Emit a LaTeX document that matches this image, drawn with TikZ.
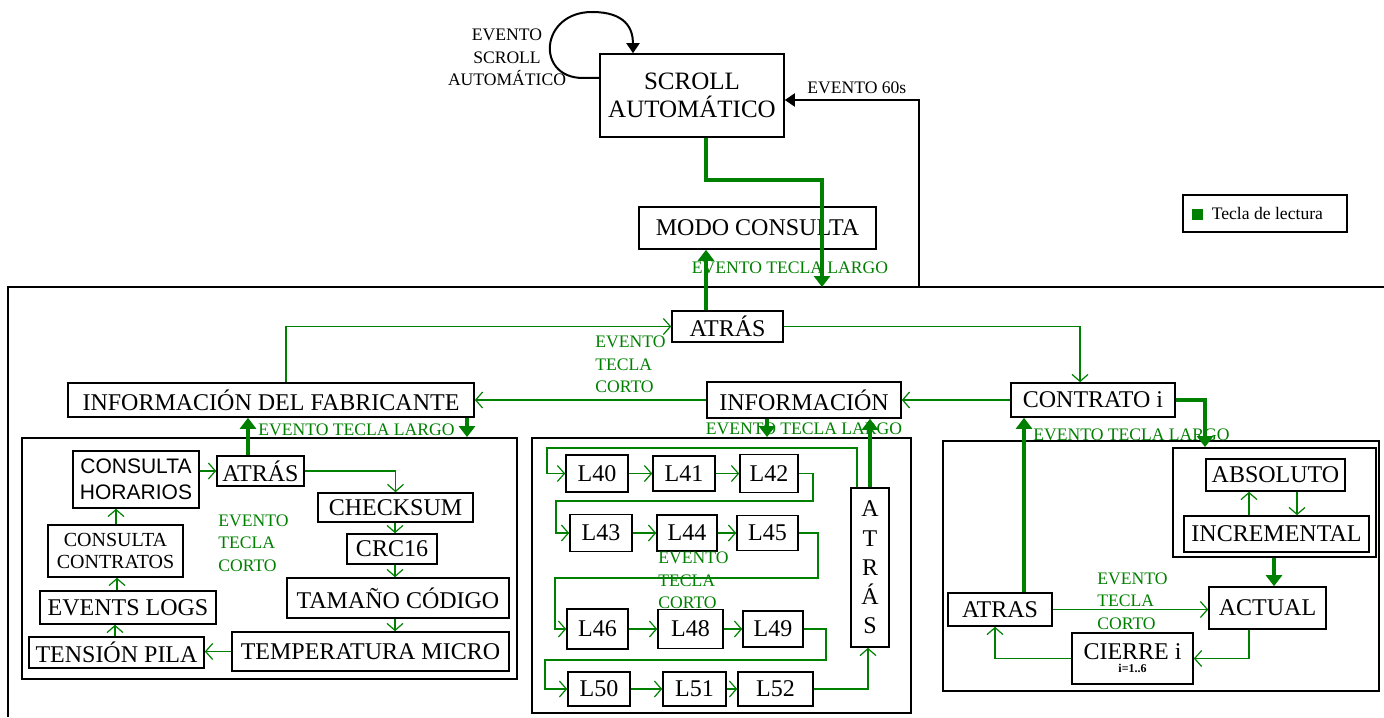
\documentclass[tikz,border=0pt]{standalone}
\usepackage{fontspec}
\setmainfont{Liberation Serif}
\newfontfamily\sansf{Liberation Sans}
\usetikzlibrary{arrows.meta}
\definecolor{grn}{RGB}{0,128,0}
\begin{document}
\begin{tikzpicture}[x=0.5pt,y=-0.5pt,
  bx/.style={draw, line width=0.8pt, inner sep=0pt, font=\fontsize{12}{14}\selectfont},
  wh/.style 2 args={minimum width=#1*0.5pt, minimum height=#2*0.5pt},
  pan/.style={draw, line width=0.9pt, inner sep=0pt},
  garr/.style={grn, line width=0.6pt, -{Straight Barb[length=3.5pt,width=8pt]}},
  gthick/.style={grn, line width=2pt, -{Triangle[length=5.5pt,width=8pt]}},
  barr/.style={black, line width=1pt, -{Triangle[length=5pt,width=6.5pt]}},
  lbl/.style={font=\fontsize{8.8}{11.2}\selectfont, inner sep=0pt},
  glbl/.style={lbl, text=grn},
]
\useasboundingbox (0,0) rectangle (1384,717);

% outer frame
\coordinate (fTL) at (8,287);
\coordinate (fBL) at (8,717);
\coordinate (fTR) at (1384,287);
\draw[line width=0.9pt] (fBL) -- (fTL) -- (fTR);
\coordinate (f60) at (919,287);
\coordinate (fin) at (822,287);

% panels
\node[pan,wh={495}{241}] (panL) at (269.5,558.5) {};
\node[pan,wh={379}{275}] (panM) at (721.5,575.5) {};
\node[pan,wh={436}{250}] (panR) at (1161,566) {};
\node[pan,wh={203}{109}] (grp) at (1274.5,502.5) {};

% top nodes
\node[bx,wh={184}{83},align=center,font=\fontsize{12.5}{14}\selectfont] (scroll) at (692,95.5) {SCROLL\\AUTOMÁTICO};
\node[bx,wh={237}{42}] (modo) at (757.5,228) {MODO CONSULTA};
\node[bx,wh={111}{31}] (atrasT) at (727.5,326.5) {ATRÁS};
\node[bx,wh={406}{34}] (inffab) at (271,400) {INFORMACIÓN DEL FABRICANTE};
\node[bx,wh={194}{36}] (info) at (804,400) {INFORMACIÓN};
\node[bx,wh={164}{34}] (contrato) at (1093,400) {CONTRATO i};

% legend
\node[draw,line width=0.6pt,inner sep=0pt,wh={164}{37}] (leg) at (1265,213.5) {};
\node[anchor=west,inner sep=0pt,font=\fontsize{8.8}{11}\selectfont] (legt) at ([xshift=4.5pt]leg.west) {\textcolor{grn}{\rule{5.5pt}{5.5pt}}\hspace{4.5pt}Tecla de lectura};

% left panel
\node[bx,wh={126}{57},align=center,font=\sansf\fontsize{10.5}{13}\selectfont] (horarios) at (136,479.5) {CONSULTA\\HORARIOS};
\node[bx,wh={87}{30}] (atrasL) at (260.5,471) {ATRÁS};
\node[bx,wh={155}{29}] (checksum) at (395.5,507.5) {CHECKSUM};
\node[bx,wh={90}{30}] (crc) at (392,549) {CRC16};
\node[bx,wh={222}{40}] (tamano) at (398,598) {TAMAÑO CÓDIGO};
\node[bx,wh={277}{39}] (temp) at (370.5,651.5) {TEMPERATURA MICRO};
\node[bx,wh={175}{31}] (tension) at (116.5,652.5) {TENSIÓN PILA};
\node[bx,wh={176}{33}] (events) at (128,607.5) {EVENTS LOGS};
\node[bx,wh={135}{52},align=center,font=\fontsize{10}{11}\selectfont] (contratos) at (115.5,551) {CONSULTA\\CONTRATOS};

% middle panel
\node[bx,wh={62}{37}] (L40) at (597,473.5) {L40};
\node[bx,wh={62}{35}] (L41) at (684,473.5) {L41};
\node[bx,wh={58}{38}] (L42) at (769,473.5) {L42};
\node[bx,wh={62}{37}] (L43) at (601,533) {L43};
\node[bx,wh={60}{36}] (L44) at (687,533) {L44};
\node[bx,wh={61}{35}] (L45) at (767.5,533) {L45};
\node[bx,wh={61}{40}] (L46) at (597.5,629) {L46};
\node[bx,wh={65}{39}] (L48) at (690.5,629) {L48};
\node[bx,wh={60}{36}] (L49) at (773,629) {L49};
\node[bx,wh={62}{34}] (L50) at (599,689) {L50};
\node[bx,wh={63}{34}] (L51) at (694.5,689) {L51};
\node[bx,wh={75}{34}] (L52) at (775.5,689) {L52};
\node[bx,wh={38}{159},align=center,font=\fontsize{12}{14.6}\selectfont] (atrasV) at (870,567.5) {A\\T\\R\\Á\\S};

% right panel
\node[bx,wh={139}{32}] (absoluto) at (1275.5,475) {ABSOLUTO};
\node[bx,wh={185}{36}] (incremental) at (1276.5,534) {INCREMENTAL};
\node[bx,wh={117}{42}] (actual) at (1267.5,608) {ACTUAL};
\node[bx,wh={104}{33}] (atrasR) at (1000,609.5) {ATRAS};
\node[bx,wh={121}{51},align=center] (cierre) at (1132.5,658.5) {CIERRE i\\[-7.5pt]{\fontsize{6}{6.5}\selectfont\bfseries i=1..6}};

% labels
\node[lbl,align=center] (lbscroll) at (507,57.5) {EVENTO\\SCROLL\\AUTOMÁTICO};
\node[lbl,anchor=west] (lb60) at (807,88) {EVENTO 60s};
\node[glbl] (lbA) at (790,268) {EVENTO TECLA LARGO};
\node[glbl,anchor=west,align=left] (lbB) at (595,364.5) {EVENTO\\TECLA\\CORTO};
\node[glbl,anchor=west] (lbC) at (258,430) {EVENTO TECLA LARGO};
\node[glbl,anchor=west,align=left] (lbD) at (218,543) {EVENTO\\TECLA\\CORTO};
\node[glbl] (lbE) at (804,429) {EVENTO TECLA LARGO};
\node[glbl,anchor=west,align=left] (lbF) at (658,580.5) {EVENTO\\TECLA\\CORTO};
\node[glbl,anchor=west] (lbG) at (1033,435) {EVENTO TECLA LARGO};
\node[glbl,anchor=west,align=left] (lbH) at (1097,601) {EVENTO\\TECLA\\CORTO};

% black connectors
\draw[barr] (scroll.west |- 0,78) -- (583,78) .. controls (535,78) and (540,12) .. (592,12) .. controls (625,12) and (633,28) .. (scroll.north -| 633,0);
\draw[barr] (f60) -- (919,100) -- (scroll.east |- 0,100);

% thick green
\draw[gthick] (scroll.south -| 706,0) -- (706,180) -- (822,180) -- (fin);
\draw[gthick] (atrasT.north -| 706,0) -- (modo.south -| 706,0);
\draw[gthick] (inffab.south -| 467,0) -- (panL.north -| 467,0);
\draw[gthick] (atrasL.north -| 248,0) -- (inffab.south -| 248,0);
\draw[gthick] (info.south -| 767,0) -- (panM.north -| 767,0);
\draw[gthick] (atrasV.north) -- (info.south -| atrasV.north);
\draw[gthick] (contrato.east) -| (grp.north -| 1205,0);
\draw[gthick] (atrasR.north -| 1024,0) -- (contrato.south -| 1024,0);
\draw[gthick] (grp.south -| 1274,0) -- (actual.north -| 1274,0);

% top thin
\draw[garr] (inffab.north -| 286,0) |- (atrasT.west);
\draw[garr] (atrasT.east) -| (contrato.north -| 1080,0);
\draw[garr] (contrato.west) -- (info.east);
\draw[garr] (info.west) -- (inffab.east);

% left thin
\draw[garr] (horarios.east |- atrasL.west) -- (atrasL.west);
\draw[garr] (atrasL.east) -| (checksum.north);
\draw[garr] (checksum.south -| 395,0) -- (crc.north -| 395,0);
\draw[garr] (crc.south -| 395,0) -- (tamano.north -| 395,0);
\draw[garr] (tamano.south -| 395,0) -- (temp.north -| 395,0);
\draw[garr] (temp.west) -- (tension.east |- temp.west);
\draw[garr] (tension.north -| 115,0) -- (events.south -| 115,0);
\draw[garr] (events.north -| 117,0) -- (contratos.south -| 117,0);
\draw[garr] (contratos.north -| 116,0) -- (horarios.south -| 116,0);

% middle thin
\draw[garr] (atrasV.north -| 857,0) -- (857,448) -- (547,448) |- (L40.west);
\draw[garr] (L40.east) -- (L41.west);
\draw[garr] (L41.east) -- (L42.west);
\draw[garr] (L42.east) -- (L42.east -| 813,0) -- (813,501) -- (556,501) |- (L43.west);
\draw[garr] (L43.east) -- (L44.west);
\draw[garr] (L44.east) -- (L45.west);
\draw[garr] (L45.east) -- (L45.east -| 818,0) -- (818,578) -- (555,578) |- (L46.west);
\draw[garr] (L46.east) -- (L48.west);
\draw[garr] (L48.east) -- (L49.west);
\draw[garr] (L49.east) -- (L49.east -| 826,0) -- (826,660) -- (545,660) |- (L50.west);
\draw[garr] (L50.east) -- (L51.west);
\draw[garr] (L51.east) -- (L52.west);
\draw[garr] (L52.east) -| (atrasV.south -| 868,0);

% right thin
\draw[garr] (incremental.north -| 1249,0) -- (absoluto.south -| 1249,0);
\draw[garr] (absoluto.south -| 1297,0) -- (incremental.north -| 1297,0);
\draw[garr] (atrasR.east) -- (actual.west |- atrasR.east);
\draw[garr] (actual.south -| 1249,0) |- (cierre.east);
\draw[garr] (cierre.west) -| (atrasR.south -| 995,0);
\end{tikzpicture}
\end{document}
